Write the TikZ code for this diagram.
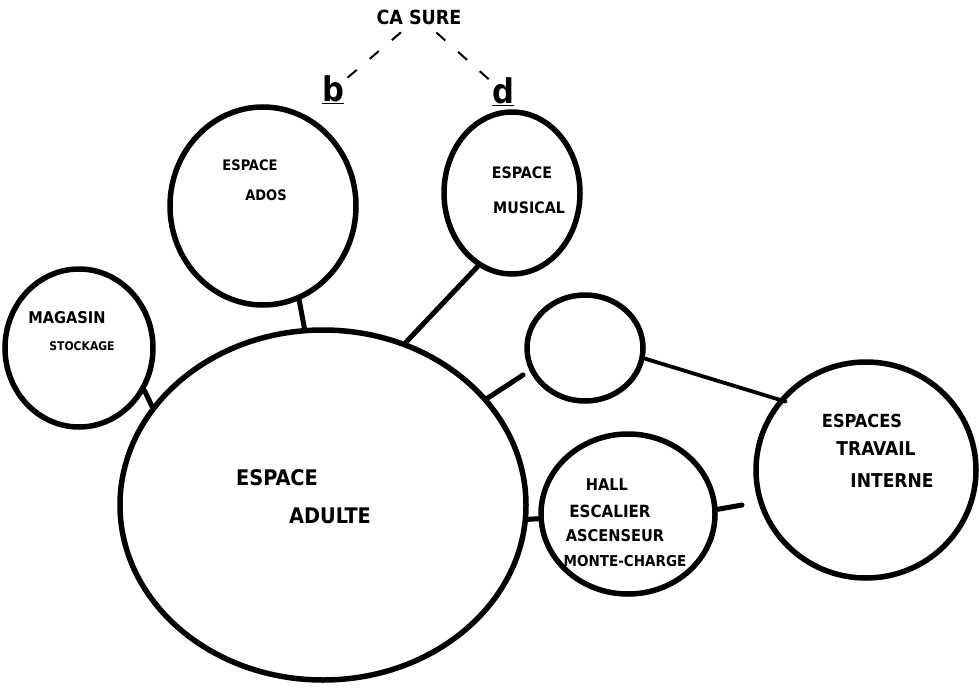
\documentclass[tikz,border=0pt]{standalone}
\usepackage{fontspec}
\setmainfont{DejaVu Sans}
\newfontfamily\hand{DejaVu Sans Condensed Bold}
\usetikzlibrary{shapes.geometric}
\newcommand{\fsz}[1]{\hand\fontsize{#1}{#1}\selectfont}
\begin{document}
\begin{tikzpicture}[x=1pt,y=-1pt,
  bubble/.style={ellipse, draw=black, line width=5.5pt, inner sep=0pt},
  link/.style={line width=5pt, line cap=round},
  thinlink/.style={line width=3.8pt, line cap=round},
  hint/.style={line width=2pt, dash pattern=on 12pt off 17pt},
  lbl/.style={inner sep=0pt, text=black}]
\useasboundingbox[fill=white] (0,0) rectangle (979,690);

% bubbles
\node[bubble, minimum width=406pt, minimum height=350pt] (adulte) at (323,505) {};
\node[bubble, minimum width=186pt, minimum height=198pt] (ados) at (263,206) {};
\node[bubble, minimum width=136pt, minimum height=162pt] (musical) at (512,193) {};
\node[bubble, minimum width=148pt, minimum height=158pt] (magasin) at (79,348) {};
\node[bubble, minimum width=116pt, minimum height=106pt] (petit) at (585,348) {};
\node[bubble, minimum width=174pt, minimum height=160pt] (hall) at (628,514) {};
\node[bubble, minimum width=220pt, minimum height=216pt] (travail) at (866,470) {};

% labels
\node[lbl, font=\fsz{19.5}] (casure) at (419,17) {CA SURE};
\node[lbl, font=\fsz{34}] (lb) at (333,90) {\underline{b}};
\node[lbl, font=\fsz{34}] (ld) at (503,92) {\underline{d}};

\node[lbl, font=\fsz{14.5}] (adosA) at (250,165) {ESPACE};
\node[lbl, font=\fsz{14.5}] (adosB) at (266,195) {ADOS};

\node[lbl, font=\fsz{15.8}] (musA) at (522,173) {ESPACE};
\node[lbl, font=\fsz{15.8}] (musB) at (529,208) {MUSICAL};

\node[lbl, font=\fsz{16.2}] (magA) at (67,318) {MAGASIN};
\node[lbl, font=\fsz{12}] (magB) at (82,346) {STOCKAGE};

\node[lbl, font=\fsz{21.5}] (aduA) at (277,478) {ESPACE};
\node[lbl, font=\fsz{21.5}] (aduB) at (330,516) {ADULTE};

\node[lbl, font=\fsz{16.2}] (hallA) at (607,485) {HALL};
\node[lbl, font=\fsz{16.8}] (hallB) at (610,511) {ESCALIER};
\node[lbl, font=\fsz{16.2}] (hallC) at (615,536) {ASCENSEUR};
\node[lbl, font=\fsz{15}] (hallD) at (625,561) {MONTE-CHARGE};

\node[lbl, font=\fsz{18}] (travA) at (862,421) {ESPACES};
\node[lbl, font=\fsz{19}] (travB) at (876,449) {TRAVAIL};
\node[lbl, font=\fsz{19}] (travC) at (892,481) {INTERNE};

% free ends
\coordinate (stubP) at (523,375);
\coordinate (stubT) at (742,505);

% connectors
\draw[link] (ados.-69) -- (adulte.96);
\draw[link] (musical.-115) -- (adulte.63);
\draw[link] (magasin.-33) -- (adulte.150);
\draw[link] (adulte.33) -- (stubP);
\draw[thinlink, shorten >=-7pt] (petit.-10) -- (travail.141);
\draw[link] (adulte.-4) -- (hall.183);
\draw[link] (hall.3) -- (stubT);

% dashed hints
\draw[hint, shorten <=12pt, shorten >=4pt] (casure) -- (lb);
\draw[hint, shorten <=12pt, shorten >=4pt] (casure) -- (ld);
\end{tikzpicture}
\end{document}
